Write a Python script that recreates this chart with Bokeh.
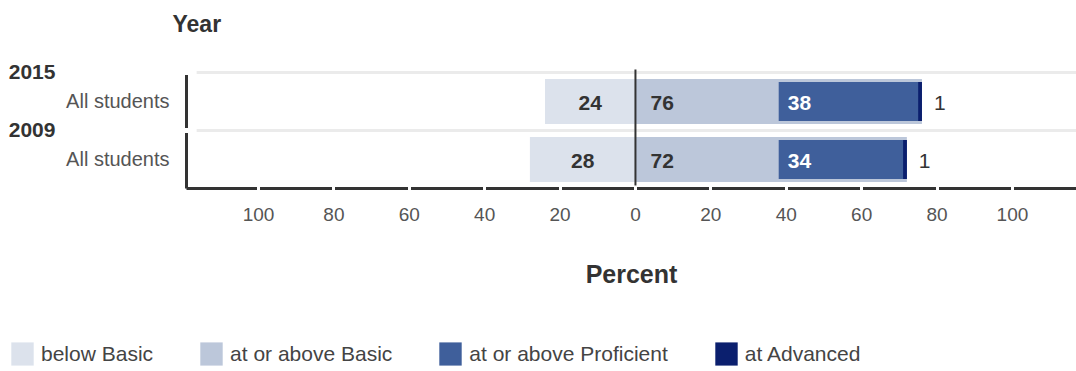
from bokeh.plotting import figure
from bokeh.models import (ColumnDataSource, Range1d, FixedTicker, Label,
                          Legend, LegendItem, LinearAxis)
from bokeh.core.properties import value
from bokeh.embed import file_html
from bokeh.resources import INLINE

# ---- data ----
years = ["2015", "2009"]
groups = ["All students", "All students"]
below_basic = [24, 28]
at_or_above_basic = [76, 72]
at_or_above_proficient = [38, 34]
at_advanced = [1, 1]
x_tick_values = [-100, -80, -60, -40, -20, 0, 20, 40, 60, 80, 100]
x_axis_title = "Percent"
y_axis_title = "Year"
legend_labels = ["below Basic", "at or above Basic", "at or above Proficient", "at Advanced"]

# ---- style / layout ----
FONT = "Liberation Sans, Arial, sans-serif"
C_BELOW = "#dce2ec"
C_BASIC = "#bcc7da"
C_PROF = "#3f5f9b"
C_ADV = "#0b1f6e"
DARK = "#333333"
W, H = 1076, 371
X_AXIS_POS = -119.1          # where the left axis sits (data units)
X_START, X_END = -168.44, 117.0
Y_START, Y_END = -3.655, 2.741

n = len(years)
ypos = [n - 1 - i for i in range(n)]
row_lo, row_hi = min(ypos) - 0.5, max(ypos) + 0.5
bounds_y = [y + 0.5 for y in ypos]

src = ColumnDataSource(dict(
    y=ypos,
    neg_below=[-v for v in below_basic],
    below_mid=[-v / 2 for v in below_basic],
    basic=at_or_above_basic,
    prof_start=[b - p for b, p in zip(at_or_above_basic, at_or_above_proficient)],
    adv_start=[b - a for b, a in zip(at_or_above_basic, at_advanced)],
    zero=[0] * n,
    below_txt=[str(v) for v in below_basic],
    basic_txt=[str(v) for v in at_or_above_basic],
    prof_txt=[str(v) for v in at_or_above_proficient],
    adv_txt=[str(v) for v in at_advanced],
))

BIG_H = 0.776
SMALL_H = 0.672

p = figure(width=W, height=H, output_backend="svg", toolbar_location=None,
           x_range=Range1d(X_START, X_END), y_range=Range1d(Y_START, Y_END),
           min_border=0, outline_line_color=None,
           background_fill_color="white", border_fill_color="white")
p.grid.visible = False

# row separators
p.segment(x0=[X_AXIS_POS + 2.7] * n, x1=[X_END] * n, y0=bounds_y, y1=bounds_y,
          line_color="#ebebeb", line_width=3, level="underlay")

r_below = p.hbar(y="y", left="neg_below", right="zero", height=BIG_H, source=src,
                 fill_color=C_BELOW, line_color=None)
r_basic = p.hbar(y="y", left="zero", right="basic", height=BIG_H, source=src,
                 fill_color=C_BASIC, line_color=None)
r_prof = p.hbar(y="y", left="prof_start", right="basic", height=SMALL_H, source=src,
                fill_color=C_PROF, line_color=None)
r_adv = p.hbar(y="y", left="adv_start", right="basic", height=SMALL_H, source=src,
               fill_color=C_ADV, line_color=None)

# zero line
p.segment(x0=[0], x1=[0], y0=[row_lo], y1=[row_hi + 0.05], line_color=DARK, line_width=2)

common = dict(source=src, y="y", text_baseline="middle", text_font=value(FONT),
              text_font_size="21px", y_offset=2)
p.text(x="below_mid", text="below_txt", text_align="center", text_font_style="bold",
       text_color=DARK, **common)
p.text(x="zero", text="basic_txt", text_align="left", x_offset=15, text_font_style="bold",
       text_color=DARK, **common)
p.text(x="prof_start", text="prof_txt", text_align="left", x_offset=9,
       text_font_style="bold", text_color="white", **common)
p.text(x="basic", text="adv_txt", text_align="left", x_offset=12,
       text_font_style="normal", text_color=DARK, **common)

# x axis (fixed at bottom of rows)
xa = p.xaxis[0]
xa.fixed_location = row_lo
xa.bounds = (X_AXIS_POS, X_END)
xa.ticker = FixedTicker(ticks=x_tick_values)
xa.major_label_overrides = {t: str(abs(t)) for t in x_tick_values}
xa.axis_line_color = DARK
xa.axis_line_width = 3
xa.major_tick_line_color = "white"
xa.major_tick_line_width = 3
xa.major_tick_in = 3
xa.major_tick_out = 3
xa.minor_tick_line_color = None
xa.major_label_text_font = FONT
xa.major_label_text_font_size = "19px"
xa.major_label_text_color = "#555555"
xa.major_label_standoff = 17
xa.axis_label = x_axis_title
xa.axis_label_text_font = FONT
xa.axis_label_text_font_style = "bold"
xa.axis_label_text_font_size = "25px"
xa.axis_label_text_color = DARK
xa.axis_label_standoff = 35

# y axis (group labels)
ya = p.yaxis[0]
ya.fixed_location = X_AXIS_POS
ya.bounds = (row_lo, row_hi)
ya.ticker = FixedTicker(ticks=ypos, minor_ticks=bounds_y)
ya.major_label_overrides = {y: g for y, g in zip(ypos, groups)}
ya.major_tick_line_color = None
ya.major_tick_in = 0
ya.major_tick_out = 0
ya.minor_tick_line_color = "white"
ya.minor_tick_line_width = 5
ya.minor_tick_in = 4
ya.minor_tick_out = 4
ya.axis_line_color = DARK
ya.axis_line_width = 3
ya.major_label_standoff = 13
ya.major_label_text_font = FONT
ya.major_label_text_font_size = "20px"
ya.major_label_text_color = "#555555"

# outer y axis (years, at the top edge of each row)
ya2 = LinearAxis(ticker=FixedTicker(ticks=bounds_y), fixed_location=X_AXIS_POS,
                 bounds=(row_lo, row_hi),
                 major_label_overrides={t: yr for t, yr in zip(bounds_y, years)},
                 axis_line_color=None, major_tick_line_color=None,
                 minor_tick_line_color=None, major_tick_in=0, major_tick_out=0,
                 major_label_standoff=131, major_label_text_font=FONT,
                 major_label_text_font_style="bold", major_label_text_font_size="21px",
                 major_label_text_color=DARK)
p.add_layout(ya2, "left")

p.add_layout(Label(x=172, y=H - 23, x_units="screen", y_units="screen", text=y_axis_title,
                   text_font=FONT, text_font_style="bold", text_font_size="23px",
                   text_baseline="middle", text_color=DARK))

legend = Legend(items=[LegendItem(label=l, renderers=[r]) for l, r in
                       zip(legend_labels, [r_below, r_basic, r_prof, r_adv])],
                orientation="horizontal", location=(8, 3),
                glyph_width=28, glyph_height=29, label_height=29, label_standoff=5,
                spacing=44, label_text_font=FONT, label_text_font_size="21px",
                label_text_color="#444444", padding=0, margin=0,
                border_line_color=None, background_fill_alpha=0)
p.add_layout(legend)

open("out.html", "w").write(file_html(p, INLINE))
